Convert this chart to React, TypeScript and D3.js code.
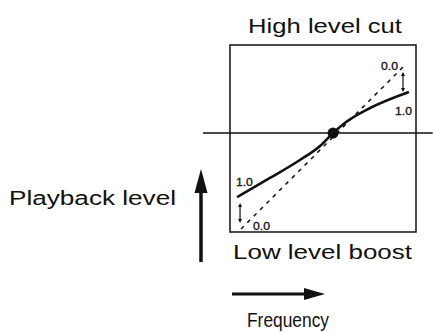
import React from "react";
import * as d3 from "d3";

// Normalised frequency (0-100) and level (0-100) inside the plot box
const solidFreq = [3.8, 21.5, 37.6, 48.4, 55.4, 62.4, 75.3, 96.2];
const solidLevel = [18.7, 28.9, 38.5, 46.0, 52.9, 58.8, 66.3, 74.9];
const dashedFreq = [5.9, 94.1];
const dashedLevel = [1.6, 89.3];
const pivot = [55.4, 52.9];
const refLineFreq = [-14.5, 109];
const boostArrow = { f: 5.4, from: 15.5, to: 4.8 };
const cutArrow = { f: 93.0, from: 85.6, to: 74.9 };
const valueLabels = ["1.0", "0.0", "0.0", "1.0"];
const valueLabelFreq = [3.2, 12.4, 81.2, 88.7];
const valueLabelLevel = [24.6, 1.1, 86.6, 62.6];
const titles = ["High level cut", "Low level boost", "Playback level", "Frequency"];

const W = 433;
const H = 333;
const box = { left: 230, top: 45, right: 416, bottom: 232 };
const FONT = "'Liberation Sans', Arial, Helvetica, sans-serif";

export default function App() {
  const x = d3.scaleLinear().domain([0, 100]).range([box.left, box.right]);
  const y = d3.scaleLinear().domain([0, 100]).range([box.bottom, box.top]);

  const solidPts: [number, number][] = solidFreq.map((f, i) => [f, solidLevel[i]]);
  const dashedPts: [number, number][] = dashedFreq.map((f, i) => [f, dashedLevel[i]]);
  const line = d3
    .line<[number, number]>()
    .x((d) => x(d[0]))
    .y((d) => y(d[1]))
    .curve(d3.curveMonotoneX);
  const straight = d3
    .line<[number, number]>()
    .x((d) => x(d[0]))
    .y((d) => y(d[1]));

  const dblArrow = (a: { f: number; from: number; to: number }, key: string) => {
    const ax = x(a.f);
    const y1 = y(a.from);
    const y2 = y(a.to);
    const hl = 4;
    const hw = 2;
    return (
      <g key={key}>
        <line x1={ax} x2={ax} y1={y1 + hl - 1} y2={y2 - hl + 1} stroke="#111" strokeWidth={1.2} />
        <path d={`M${ax},${y1} L${ax - hw},${y1 + hl} L${ax + hw},${y1 + hl} Z`} fill="#111" />
        <path d={`M${ax},${y2} L${ax - hw},${y2 - hl} L${ax + hw},${y2 - hl} Z`} fill="#111" />
      </g>
    );
  };

  // Playback level arrow
  const upX = 201, upBottom = 262, upTip = 169;
  // Frequency arrow
  const frY = 294, frLeft = 232, frTip = 325;

  return (
    <svg
      width={W}
      height={H}
      viewBox={`0 0 ${W} ${H}`}
      style={{ position: "absolute", left: 0, top: 0, background: "#fff" }}
    >
      {/* plot box */}
      <rect
        x={box.left}
        y={box.top}
        width={box.right - box.left}
        height={box.bottom - box.top}
        fill="none"
        stroke="#111"
        strokeWidth={1.5}
      />
      {/* reference level line */}
      <line
        x1={x(refLineFreq[0])}
        x2={x(refLineFreq[1])}
        y1={y(pivot[1])}
        y2={y(pivot[1])}
        stroke="#111"
        strokeWidth={1.5}
      />
      {/* flat response (dashed) */}
      <path
        d={straight(dashedPts) || ""}
        fill="none"
        stroke="#111"
        strokeWidth={1.5}
        strokeDasharray="4,5"
      />
      {/* compressed response */}
      <path d={line(solidPts) || ""} fill="none" stroke="#111" strokeWidth={2.6} />
      <circle cx={x(pivot[0])} cy={y(pivot[1])} r={5.5} fill="#111" />

      {dblArrow(boostArrow, "boost")}
      {dblArrow(cutArrow, "cut")}

      {valueLabels.map((t, i) => (
        <text
          key={"v" + i}
          x={x(valueLabelFreq[i])}
          y={y(valueLabelLevel[i])}
          fontFamily={FONT}
          fontSize={10.5}
          fill="#111"
          stroke="#111"
          strokeWidth={0.3}
          textLength={17}
          lengthAdjust="spacingAndGlyphs"
        >
          {t}
        </text>
      ))}

      {/* titles */}
      <text x={248} y={33} fontFamily={FONT} fontSize={20} fill="#111" textLength={154} lengthAdjust="spacingAndGlyphs">
        {titles[0]}
      </text>
      <text x={233} y={259} fontFamily={FONT} fontSize={20} fill="#111" textLength={179} lengthAdjust="spacingAndGlyphs">
        {titles[1]}
      </text>
      <text x={9} y={205} fontFamily={FONT} fontSize={20} fill="#111" textLength={167} lengthAdjust="spacingAndGlyphs">
        {titles[2]}
      </text>
      <text x={247} y={327} fontFamily={FONT} fontSize={20} fill="#111" textLength={82} lengthAdjust="spacingAndGlyphs">
        {titles[3]}
      </text>

      {/* Playback level arrow */}
      <line x1={upX} x2={upX} y1={upBottom} y2={upTip + 20} stroke="#111" strokeWidth={3.5} />
      <path d={`M${upX},${upTip} L${upX - 6.5},${upTip + 24} L${upX + 6.5},${upTip + 24} Z`} fill="#111" />

      {/* Frequency arrow */}
      <line x1={frLeft} x2={frTip - 16} y1={frY} y2={frY} stroke="#111" strokeWidth={2.8} />
      <path d={`M${frTip},${frY} L${frTip - 21},${frY - 6} L${frTip - 21},${frY + 6} Z`} fill="#111" />
    </svg>
  );
}
